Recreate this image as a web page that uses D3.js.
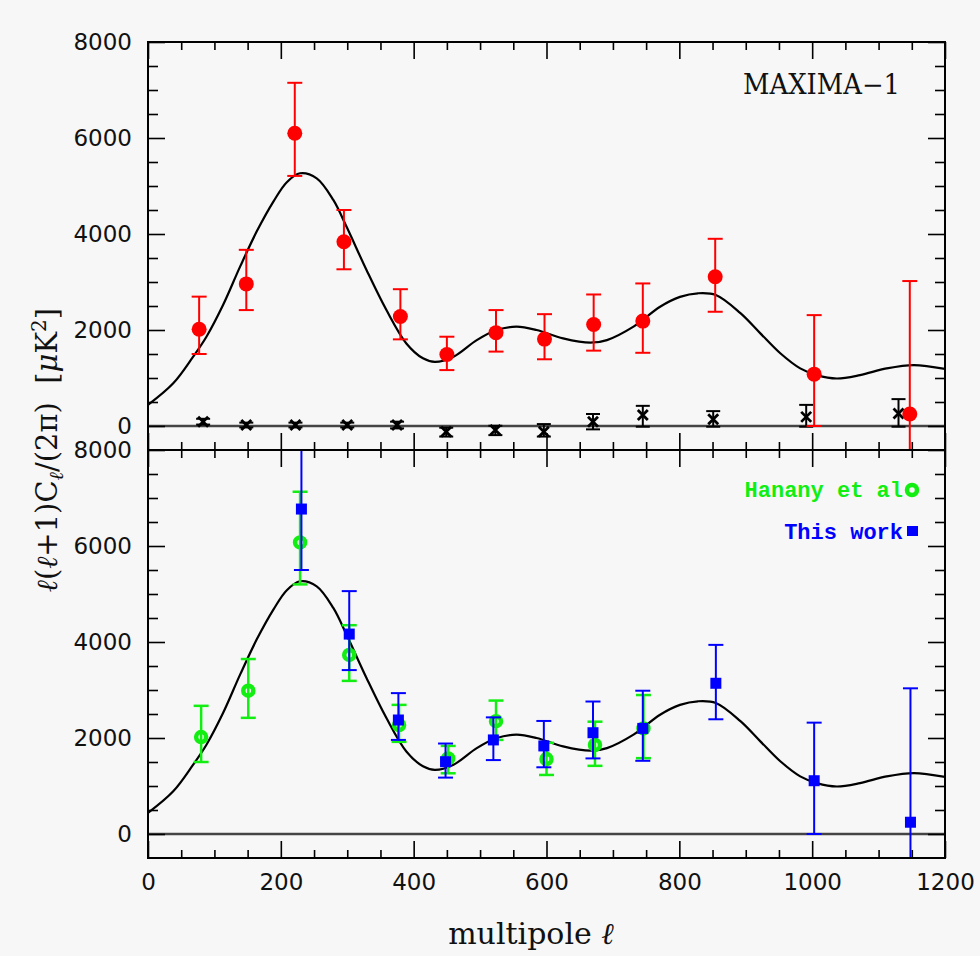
<!DOCTYPE html>
<html>
<head>
<meta charset="utf-8">
<script src="https://cdn.jsdelivr.net/npm/d3@7"></script>
<style>
    body { margin: 0; background: #f7f7f7; }
    svg { display: block; background: #f7f7f7; }
    .tick text { font-family: "DejaVu Sans", sans-serif; font-size: 23px; fill: #111; }
</style>
</head>
<body>
<div id="chart"></div>
<script>
'use strict';

// multipole ticks
const xMajor = [0, 200, 400, 600, 800, 1000, 1200];
const xMinor = d3.range(50, 1200, 50).filter(d => d % 200 !== 0);
const yMajor = [0, 2000, 4000, 6000, 8000];
const yMinor = d3.range(500, 8000, 500).filter(d => d % 2000 !== 0);

// theory curve
const modelL = [0, 38, 68, 88, 113, 139, 164, 189, 209, 229, 254, 279, 299, 329, 359, 389, 414, 432,
                460, 495, 525, 555, 585, 625, 666, 691, 731, 771, 801, 828, 855, 892, 922, 952, 982,
                1007, 1037, 1072, 1112, 1153, 1200];
const modelV = [440, 890, 1445, 1860, 2520, 3330, 4060, 4680, 5080, 5265, 5160, 4710, 4150, 3250, 2415, 1720, 1410, 1335,
                1445, 1790, 2000, 2070, 2000, 1825, 1735, 1790, 2070, 2485, 2690, 2765, 2730, 2350, 1930, 1515, 1200,
                1060, 990, 1060, 1200, 1270, 1190];

// MAXIMA-1 band powers (top panel)
const maxL  = [77, 148, 221, 295, 380, 450, 524, 597, 671, 745, 854, 1003, 1147];
const maxV  = [2015, 2960, 6100, 3840, 2280, 1490, 1945, 1810, 2115, 2185, 3110, 1080, 250];
const maxHi = [2695, 3670, 7150, 4500, 2850, 1860, 2415, 2330, 2740, 2970, 3900, 2310, 3020];
const maxLo = [1500, 2415, 5210, 3265, 1805, 1165, 1550, 1390, 1570, 1525, 2380, 0, -2520];

// crosses near zero (top panel)
const crossL  = [83, 148, 222, 300, 375, 449, 523, 596, 670, 745, 851, 991, 1130];
const crossV  = [90, 20, 20, 20, 20, -120, -85, -120, 90, 230, 140, 190, 260];
const crossHi = [150, 70, 70, 70, 90, -35, 5, 40, 250, 420, 310, 440, 560];
const crossLo = [30, -30, -30, -30, -50, -220, -190, -220, -70, -15, -15, -15, -15];

// Hanany et al (bottom panel)
const hanL  = [80, 151, 229, 303, 378, 452, 524, 600, 673, 746];
const hanV  = [2020, 2985, 6075, 3730, 2270, 1575, 2350, 1560, 1855, 2200];
const hanHi = [2670, 3645, 7130, 4350, 2690, 1835, 2780, 1900, 2340, 2895];
const hanLo = [1500, 2420, 5200, 3190, 1920, 1265, 1960, 1230, 1420, 1580];

// This work (bottom panel)
const workL  = [231, 303, 377, 448, 520, 596, 670, 745, 855, 1003, 1148];
const workV  = [6770, 4165, 2375, 1506, 1960, 1835, 2110, 2200, 3140, 1110, 245];
const workHi = [8040, 5060, 2935, 1885, 2430, 2355, 2760, 2985, 3940, 2320, 3035];
const workLo = [5500, 3415, 1960, 1175, 1540, 1390, 1575, 1525, 2390, 0, -2545];

const RED = '#ff0000', GREEN = '#12ee12', BLUE = '#0000ff';

const svgWidth = 980, svgHeight = 956;
const margin = {left: 148, top: 42};
const plotW = 797, panelH = 408;

const svg = d3.select('#chart').append('svg')
    .attr('width', svgWidth)
    .attr('height', svgHeight);

const x = d3.scaleLinear([0, 1200], [0, plotW]);
const y = d3.scaleLinear([-500, 8000], [panelH, 0]);

const zip = (L, V, Hi, Lo) => L.map((l, i) => ({l: l, v: V[i], hi: Hi ? Hi[i] : null, lo: Lo ? Lo[i] : null}));

// one panel: clip, zero line, curve, axes and frame
function makePanel(idx, showXLabels) {
    const g = svg.append('g')
        .attr('transform', `translate(${margin.left},${margin.top + idx * panelH})`);

    g.append('clipPath').attr('id', 'clip' + idx)
        .append('rect').attr('width', plotW).attr('height', panelH);

    const plot = g.append('g').attr('clip-path', `url(#clip${idx})`);

    // zero line
    plot.append('line')
        .attr('x1', 0).attr('x2', plotW)
        .attr('y1', y(0)).attr('y2', y(0))
        .attr('stroke', '#444').attr('stroke-width', 2.5);

    // theory curve
    plot.append('path')
        .datum(zip(modelL, modelV))
        .attr('fill', 'none')
        .attr('stroke', '#000')
        .attr('stroke-width', 2.2)
        .attr('d', d3.line().x(d => x(d.l)).y(d => y(d.v)).curve(d3.curveCatmullRom.alpha(0.5)));

    // axes - ticks all point inwards
    const axes = [
        [d3.axisLeft(y).tickValues(yMajor).tickSize(-17).tickPadding(16).tickFormat(d3.format('d')), 0, 0],
        [d3.axisLeft(y).tickValues(yMinor).tickSize(-10).tickFormat(''), 0, 0],
        [d3.axisRight(y).tickValues(yMajor).tickSize(-17).tickFormat(''), plotW, 0],
        [d3.axisRight(y).tickValues(yMinor).tickSize(-10).tickFormat(''), plotW, 0],
        [d3.axisTop(x).tickValues(xMajor).tickSize(-17).tickFormat(''), 0, 0],
        [d3.axisTop(x).tickValues(xMinor).tickSize(-8).tickFormat(''), 0, 0],
        [d3.axisBottom(x).tickValues(xMajor).tickSize(-17).tickPadding(16)
            .tickFormat(showXLabels ? d3.format('d') : ''), 0, panelH],
        [d3.axisBottom(x).tickValues(xMinor).tickSize(-8).tickFormat(''), 0, panelH]
    ];
    axes.forEach(([ax, tx, ty]) => {
        const a = g.append('g').attr('transform', `translate(${tx},${ty})`).call(ax);
        a.select('.domain').remove();
        a.selectAll('.tick line').attr('stroke', '#000').attr('stroke-width', 1.6);
    });

    // frame
    g.append('rect')
        .attr('width', plotW).attr('height', panelH)
        .attr('fill', 'none').attr('stroke', '#000').attr('stroke-width', 2);

    return plot;
}

// vertical error bars with caps
function errorBars(plot, data, color, width, capW) {
    const eb = plot.append('g').attr('stroke', color).attr('stroke-width', width);
    eb.selectAll('line.bar').data(data).join('line')
        .attr('class', 'bar')
        .attr('x1', d => x(d.l)).attr('x2', d => x(d.l))
        .attr('y1', d => y(d.hi)).attr('y2', d => y(d.lo));
    ['hi', 'lo'].forEach(k => {
        eb.selectAll('line.cap-' + k).data(data).join('line')
            .attr('class', 'cap-' + k)
            .attr('x1', d => x(d.l) - capW / 2).attr('x2', d => x(d.l) + capW / 2)
            .attr('y1', d => y(d[k])).attr('y2', d => y(d[k]));
    });
}

// ---- top panel
const topPanel = makePanel(0, false);

const crosses = zip(crossL, crossV, crossHi, crossLo);
errorBars(topPanel, crosses, '#000', 2, 14);
topPanel.append('g').selectAll('path').data(crosses).join('path')
    .attr('d', d => `M${x(d.l) - 5},${y(d.v) - 5}L${x(d.l) + 5},${y(d.v) + 5}M${x(d.l) - 5},${y(d.v) + 5}L${x(d.l) + 5},${y(d.v) - 5}`)
    .attr('stroke', '#000').attr('stroke-width', 2.8);

const maxima = zip(maxL, maxV, maxHi, maxLo);
errorBars(topPanel, maxima, RED, 2, 15);
topPanel.append('g').selectAll('circle').data(maxima).join('circle')
    .attr('cx', d => x(d.l)).attr('cy', d => y(d.v)).attr('r', 7.5)
    .attr('fill', RED);

svg.append('text')
    .attr('x', 743).attr('y', 94)
    .attr('textLength', 157).attr('lengthAdjust', 'spacingAndGlyphs')
    .style('font-family', '"DejaVu Serif", serif').style('font-size', '27px').attr('fill', '#111')
    .text('MAXIMA\u22121');

// ---- bottom panel
const bottomPanel = makePanel(1, true);

const hanany = zip(hanL, hanV, hanHi, hanLo);
errorBars(bottomPanel, hanany, GREEN, 2.5, 15);
bottomPanel.append('g').selectAll('circle').data(hanany).join('circle')
    .attr('cx', d => x(d.l)).attr('cy', d => y(d.v)).attr('r', 5)
    .attr('fill', 'none').attr('stroke', GREEN).attr('stroke-width', 4.5);

const work = zip(workL, workV, workHi, workLo);
errorBars(bottomPanel, work, BLUE, 2, 15);
bottomPanel.append('g').selectAll('rect').data(work).join('rect')
    .attr('x', d => x(d.l) - 5.5).attr('y', d => y(d.v) - 5.5)
    .attr('width', 11).attr('height', 11)
    .attr('fill', BLUE);

// legend
const legend = svg.append('g').style('font-family', '"Liberation Mono", monospace')
    .style('font-size', '22px').style('font-weight', 'bold');
legend.append('text').attr('x', 903).attr('y', 497).attr('text-anchor', 'end')
    .attr('fill', GREEN).text('Hanany et al');
legend.append('circle').attr('cx', 912).attr('cy', 490).attr('r', 5)
    .attr('fill', 'none').attr('stroke', GREEN).attr('stroke-width', 4.5);
legend.append('text').attr('x', 903).attr('y', 539).attr('text-anchor', 'end')
    .attr('fill', BLUE).text('This work');
legend.append('rect').attr('x', 907).attr('y', 526).attr('width', 11).attr('height', 10)
    .attr('fill', BLUE);

// axis titles
const xTitle = svg.append('text')
    .attr('x', 531).attr('y', 944)
    .attr('text-anchor', 'middle')
    .style('font-family', '"DejaVu Serif", serif').style('font-size', '30px').attr('fill', '#111');
xTitle.append('tspan').text('multipole ');
xTitle.append('tspan').style('font-style', 'italic').text('\u2113');

const yTitle = svg.append('text')
    .attr('transform', 'translate(57,450) rotate(-90)')
    .attr('text-anchor', 'middle')
    .style('font-family', '"DejaVu Serif", serif').style('font-size', '29px').attr('fill', '#111');
yTitle.append('tspan').style('font-style', 'italic').text('\u2113');
yTitle.append('tspan').text('(');
yTitle.append('tspan').style('font-style', 'italic').text('\u2113');
yTitle.append('tspan').text('+1)C');
yTitle.append('tspan').attr('dy', 6).style('font-size', '20px').style('font-style', 'italic').text('\u2113');
yTitle.append('tspan').attr('dy', -6).text('/(2\u03c0)\u00a0\u00a0[');
yTitle.append('tspan').style('font-style', 'italic').text('\u03bc');
yTitle.append('tspan').text('K');
yTitle.append('tspan').attr('dy', -11).style('font-size', '20px').text('2');
yTitle.append('tspan').attr('dy', 11).text(']');
</script>
</body>
</html>
